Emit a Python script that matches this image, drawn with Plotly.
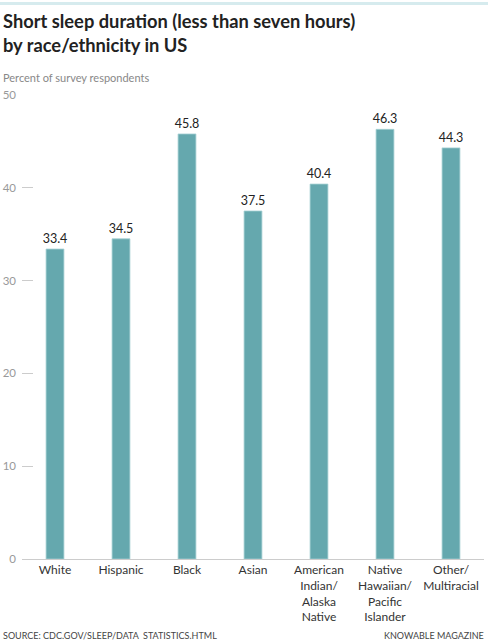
import plotly.graph_objects as go

categories = ["White", "Hispanic", "Black", "Asian",
              "American<br>Indian/<br>Alaska<br>Native",
              "Native<br>Hawaiian/<br>Pacific<br>Islander",
              "Other/<br>Multiracial"]
values = [33.4, 34.5, 45.8, 37.5, 40.4, 46.3, 44.3]
y_ticks = [0, 10, 20, 30, 40, 50]

FONT = "Lato"
BAR = "#65a8ae"

fig = go.Figure(go.Bar(
    x=categories, y=values,
    width=0.27,
    marker=dict(color=BAR, line=dict(color="#a3cfd3", width=0.8)),
    text=[f"{v:.1f}" for v in values],
    textposition="outside",
    constraintext="none",
    textfont=dict(family=FONT, size=12.5, color="#222222"),
    cliponaxis=False,
    hoverinfo="skip",
))

fig.update_layout(
    width=488, height=640,
    margin=dict(l=22, r=4, t=95, b=81, autoexpand=False),
    plot_bgcolor="white", paper_bgcolor="white",
    showlegend=False,
    font=dict(family=FONT),
)
fig.update_xaxes(
    showgrid=False, showline=True, linecolor="#cccccc", linewidth=1,
    ticks="", tickfont=dict(family=FONT, size=12, color="#333333"),
    automargin=False, fixedrange=True,
)
fig.update_yaxes(
    range=[0, 50], tickvals=y_ticks, showgrid=False, zeroline=False,
    ticks="inside", ticklen=11, tickcolor="#cccccc", tickwidth=1,
    tickfont=dict(family=FONT, size=11.5, color="#999999"),
    ticklabelstandoff=5,
    automargin=False, fixedrange=True,
)

# thin accent line at the very top
fig.add_shape(type="line", xref="paper", yref="paper",
              x0=-0.05, x1=1.05, y0=1.197, y1=1.197,
              line=dict(color="#d6ebee", width=3))

fig.add_annotation(
    text="<b>Short sleep duration (less than seven hours)<br>by race/ethnicity in US</b>",
    xref="paper", yref="paper", x=-0.045, y=1.188, xanchor="left", yanchor="top",
    align="left", showarrow=False,
    font=dict(family=FONT, size=18.3, color="#222222"),
)
fig.add_annotation(
    text="Percent of survey respondents",
    xref="paper", yref="paper", x=-0.045, y=1.037, xanchor="left", yanchor="middle",
    showarrow=False, font=dict(family=FONT, size=11, color="#888888"),
)
fig.add_annotation(
    text="SOURCE: CDC.GOV/SLEEP/DATA_STATISTICS.HTML",
    xref="paper", yref="paper", x=-0.045, y=-0.164, xanchor="left", yanchor="middle",
    showarrow=False, font=dict(family=FONT, size=9, color="#444444"),
)
fig.add_annotation(
    text="KNOWABLE MAGAZINE",
    xref="paper", yref="paper", x=1.004, y=-0.164, xanchor="right", yanchor="middle",
    showarrow=False, font=dict(family=FONT, size=9, color="#444444"),
)

fig.write_html("out.html", config={"displayModeBar": False},
               post_script="document.body.style.margin='0';")
